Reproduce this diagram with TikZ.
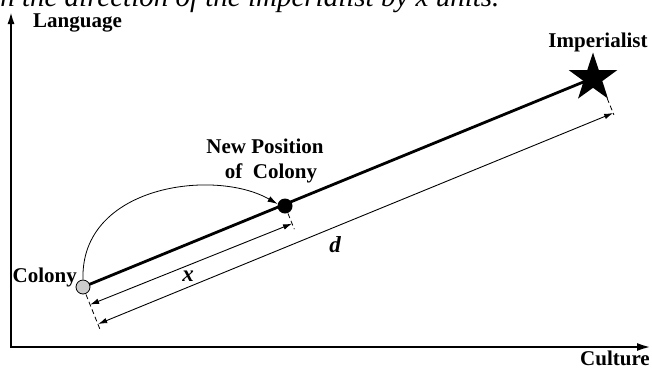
\documentclass[tikz,border=0pt]{standalone}
\usepackage{fontspec}
\setmainfont{Liberation Serif}
\usetikzlibrary{positioning,arrows.meta,calc,shapes.geometric}

\begin{document}
\begin{tikzpicture}[x=1pt,y=-1pt,
  lbl/.style={font=\fontsize{21}{23}\selectfont\bfseries,inner sep=0pt},
  sym/.style={font=\fontsize{23}{25}\selectfont\bfseries\itshape,inner sep=0pt},
  dim/.style={line width=0.9pt,{Latex[length=9pt,width=5.5pt]}-{Latex[length=9pt,width=5.5pt]}},
  ext/.style={line width=0.8pt,dash pattern=on 5pt off 3pt},
  axis/.style={line width=2.4pt,{Latex[length=13pt,width=7pt]}-{Latex[length=14pt,width=8pt]}}]
\useasboundingbox (0,0) rectangle (652,370);
\clip (0,0) rectangle (652,370);
% ---- caption line, cut at the top ----
\node[font=\fontsize{29}{32}\selectfont\itshape,anchor=base west,inner sep=0pt] (cap) at (-8,6) {in the direction of the imperialist by x units.};
% ---- axes ----
\coordinate (O) at (11,347);
\coordinate (ytip) at (11,11);
\coordinate (xtip) at (651,347);
\draw[axis] (ytip) -- (O) -- (xtip);
\node[lbl,anchor=base west] (lang) at (33,27) {Language};
\node[lbl,anchor=base east] (cult) at (650,365) {Culture};
% ---- colony, its new position and the imperialist ----
\coordinate (impc) at (598,76);
\draw[line width=2.8pt] (83,287) -- (impc);
\node[circle,draw,line width=0.8pt,fill=gray!40,minimum size=14pt,inner sep=0pt] (col) at (83,287) {};
\node[circle,fill=black,minimum size=15pt,inner sep=0pt] (newpos) at (285,206) {};
\node[star,star points=5,star point ratio=2.6,fill=black,minimum size=51pt,inner sep=0pt] (imp) at (593,78) {};
\node[lbl,anchor=base east] (collbl) at (77,282) {Colony};
\node[lbl,anchor=base] (newlbl) at (265,153) {New Position};
\node[lbl,anchor=base] (newlbl2) at (271,178) {of\ \ Colony};
\node[lbl,anchor=base] (implbl) at (598,47) {Imperialist};
% ---- move of the colony ----
\draw[line width=0.8pt,-{Latex[length=10pt,width=6pt]}] (col.north) .. controls (80,185) and (215,168) .. (newpos.165);
% ---- distances x and d ----
\draw[ext] ($(col)!8pt!-90:(newpos)$) -- ($(col)!46pt!-90:(newpos)$);
\draw[ext] ($(newpos)!8pt!90:(col)$) -- ($(newpos)!25pt!90:(col)$);
\draw[ext] ($(impc)!24pt!90:(col)$) -- ($(impc)!42pt!90:(col)$);
\coordinate (xa) at ($(col)!19pt!-90:(newpos)$);
\coordinate (xb) at ($(newpos)!19pt!90:(col)$);
\coordinate (da) at ($(col)!40pt!-90:(impc)$);
\coordinate (db) at ($(impc)!40pt!90:(col)$);
\draw[dim] (xa) -- (xb);
\draw[dim] (da) -- (db);
\node[sym,anchor=base] (xlbl) at (188,281) {x};
\node[sym,anchor=base] (dlbl) at (335,252) {d};
\end{tikzpicture}
\end{document}
